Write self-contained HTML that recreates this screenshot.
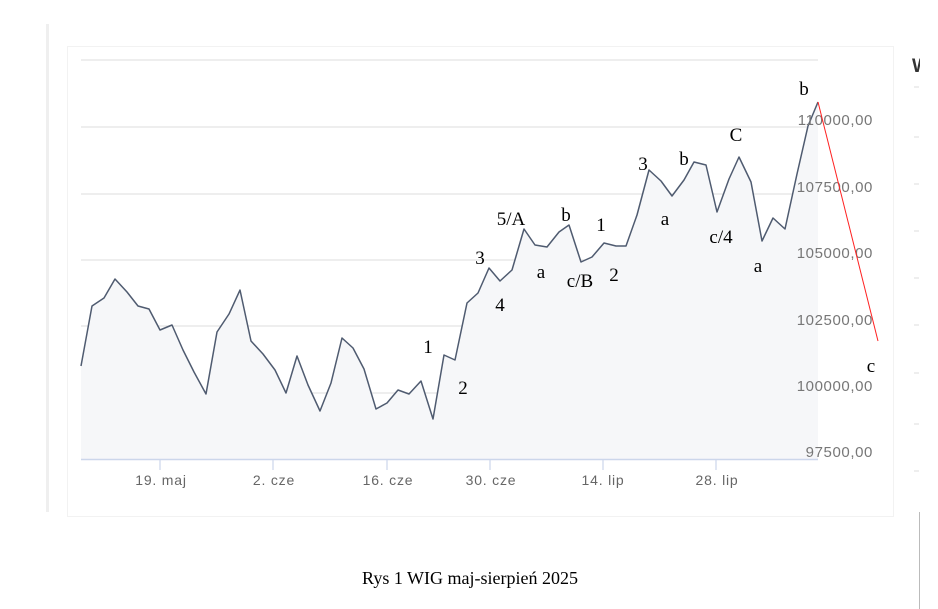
<!DOCTYPE html>
<html><head><meta charset="utf-8"><style>
html,body{margin:0;padding:0;background:#fff;width:938px;height:609px;overflow:hidden}
</style></head><body>
<svg width="938" height="609" xmlns="http://www.w3.org/2000/svg" style="position:absolute;left:0;top:0">
<rect x="46" y="24" width="3" height="488" fill="#efefef"/>
<rect x="67.5" y="46.5" width="826" height="470" fill="none" stroke="#f2f2f2"/>
<g stroke="#e3e3e3" stroke-width="1.2">
<line x1="81" y1="60" x2="818" y2="60"/><line x1="81" y1="127" x2="818" y2="127"/>
<line x1="81" y1="194" x2="818" y2="194"/><line x1="81" y1="260" x2="818" y2="260"/>
<line x1="81" y1="326" x2="818" y2="326"/><line x1="81" y1="393" x2="818" y2="393"/>
</g>
<polygon fill="#f6f7f9" points="81,459 81,366 92,306 104,298 115,279 127,292 138,306 149,309 160,330 172,325 183,350 194,372 206,394 217,332 229,314 240,290 251,341 263,354 275,370 286,393 297,356 308,385 320,411 331,383 342,338 353,348 364,369 376,409 387,403 398,390 409,394 421,381 433,419 444,355 455,360 467,303 478,293 489,268 500,281 512,270 524,229 535,245 547,247 559,232 569,225 581,262 592,257 604,243 616,246 626,246 637,215 649,170 661,181 672,196 684,180 694,162 706,165 717,212 729,179 739,157 751,182 762,241 773,218 785,229 797,174 808,126 818,102 818,459"/>
<polyline fill="none" stroke="#4f5b70" stroke-width="1.5" stroke-linejoin="round" points="81,366 92,306 104,298 115,279 127,292 138,306 149,309 160,330 172,325 183,350 194,372 206,394 217,332 229,314 240,290 251,341 263,354 275,370 286,393 297,356 308,385 320,411 331,383 342,338 353,348 364,369 376,409 387,403 398,390 409,394 421,381 433,419 444,355 455,360 467,303 478,293 489,268 500,281 512,270 524,229 535,245 547,247 559,232 569,225 581,262 592,257 604,243 616,246 626,246 637,215 649,170 661,181 672,196 684,180 694,162 706,165 717,212 729,179 739,157 751,182 762,241 773,218 785,229 797,174 808,126 818,102"/>
<line x1="81" y1="459.5" x2="818" y2="459.5" stroke="#ccd6eb" stroke-width="1.5"/>
<g stroke="#ccd6eb" stroke-width="1.2">
<line x1="160" y1="460" x2="160" y2="470"/><line x1="273" y1="460" x2="273" y2="470"/>
<line x1="387" y1="460" x2="387" y2="470"/><line x1="490" y1="460" x2="490" y2="470"/>
<line x1="603" y1="460" x2="603" y2="470"/><line x1="716" y1="460" x2="716" y2="470"/>
</g>
<g font-family="Liberation Sans, sans-serif" font-size="14" letter-spacing="0.8" fill="#666" text-anchor="middle">
<text x="161" y="485">19. maj</text><text x="274" y="485">2. cze</text>
<text x="388" y="485">16. cze</text><text x="491" y="485">30. cze</text>
<text x="603" y="485">14. lip</text><text x="717" y="485">28. lip</text>
</g>
<g font-family="Liberation Sans, sans-serif" font-size="15" letter-spacing="0.6" fill="#777" text-anchor="end">
<text x="873" y="125">110000,00</text><text x="873" y="192">107500,00</text>
<text x="873" y="258">105000,00</text><text x="873" y="325">102500,00</text>
<text x="873" y="391">100000,00</text><text x="873" y="457">97500,00</text>
</g>
<line x1="818" y1="102" x2="878" y2="341" stroke="#ff2020" stroke-width="1"/>
<g font-family="Liberation Serif, serif" font-size="19" fill="#000" text-anchor="middle">
<text x="428" y="353">1</text><text x="463" y="394">2</text>
<text x="480" y="264">3</text><text x="500" y="311">4</text>
<text x="511" y="225">5/A</text><text x="541" y="278">a</text>
<text x="566" y="221">b</text><text x="580" y="287">c/B</text>
<text x="601" y="231">1</text><text x="614" y="281">2</text>
<text x="643" y="170">3</text><text x="665" y="225">a</text>
<text x="684" y="165">b</text><text x="721" y="243">c/4</text>
<text x="736" y="141">C</text><text x="758" y="272">a</text>
<text x="804" y="95">b</text><text x="871" y="372">c</text>
</g>
<svg x="912" y="50" width="8" height="30"><text x="0" y="22" font-family="Liberation Sans, sans-serif" font-size="19" font-weight="bold" fill="#333">W</text></svg>
<g stroke="#ddd"><line x1="914" y1="87" x2="919" y2="87"/><line x1="914" y1="137" x2="919" y2="137"/><line x1="914" y1="184" x2="919" y2="184"/><line x1="914" y1="231" x2="919" y2="231"/><line x1="914" y1="278" x2="919" y2="278"/><line x1="914" y1="325" x2="919" y2="325"/><line x1="914" y1="373" x2="919" y2="373"/><line x1="914" y1="424" x2="919" y2="424"/><line x1="914" y1="471" x2="919" y2="471"/></g>
<line x1="919.5" y1="512" x2="919.5" y2="609" stroke="#bbb"/>
<text x="470" y="584" font-family="Liberation Serif, serif" font-size="18" fill="#000" text-anchor="middle">Rys 1 WIG maj-sierpień 2025</text>
</svg>
</body></html>
